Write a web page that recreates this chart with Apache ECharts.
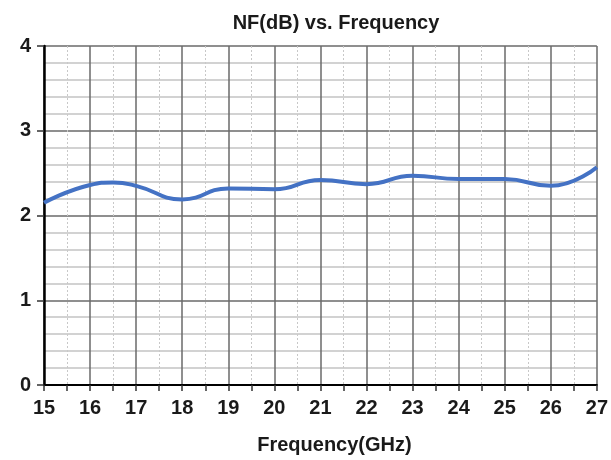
<!DOCTYPE html>
<html>
<head>
<meta charset="utf-8">
<script src="https://cdn.jsdelivr.net/npm/echarts@6/dist/echarts.min.js"></script>
<style>html,body{margin:0;padding:0;background:#fff}#c{width:611px;height:460px}</style>
</head>
<body>
<div id="c"></div>
<script>
var freq = [15, 16, 16.5, 17, 18, 19, 20, 21, 22, 23, 24, 25, 26, 27];
var nf   = [2.15, 2.36, 2.39, 2.35, 2.19, 2.32, 2.31, 2.42, 2.37, 2.47, 2.43, 2.43, 2.35, 2.57];
var xTicks = [15, 16, 17, 18, 19, 20, 21, 22, 23, 24, 25, 26, 27];
var yTicks = [0, 1, 2, 3, 4];

var chart = echarts.init(document.getElementById('c'), null, {renderer: 'canvas'});
var font = 'Liberation Sans, Arial, sans-serif';
chart.setOption({
  animation: false,
  backgroundColor: '#fff',
  title: {
    text: 'NF(dB) vs. Frequency',
    left: 331, top: 8, textAlign: 'center',
    textStyle: {fontFamily: font, fontWeight: 'bold', fontSize: 20, color: '#1a1a1a'}
  },
  grid: {left: 44, right: 13, top: 46, bottom: 74, containLabel: false},
  xAxis: {
    type: 'value', min: xTicks[0], max: xTicks[xTicks.length - 1], interval: 1,
    name: 'Frequency(GHz)', nameLocation: 'middle', nameGap: 50,
    nameTextStyle: {fontFamily: font, fontWeight: 'bold', fontSize: 20, color: '#1a1a1a', padding: [0, 0, 0, 28]},
    axisLine: {show: true, onZero: false, lineStyle: {color: '#000', width: 2}},
    axisTick: {show: true, length: 6, lineStyle: {color: '#333', width: 1.5}},
    minorTick: {show: true, splitNumber: 2, length: 6, lineStyle: {color: '#333', width: 1.5}},
    axisLabel: {fontFamily: font, fontWeight: 'bold', fontSize: 20, color: '#1a1a1a', margin: 13,
      formatter: function (v) { return xTicks.indexOf(v) >= 0 ? String(v) : ''; }},
    splitLine: {show: true, lineStyle: {color: '#6a6a6a', width: 1.5}},
    minorSplitLine: {show: true, lineStyle: {color: '#c8c8c8', width: 1, type: [2, 2]}}
  },
  yAxis: {
    type: 'value', min: yTicks[0], max: yTicks[yTicks.length - 1], interval: 1,
    axisLine: {show: true, onZero: false, lineStyle: {color: '#000', width: 2.5}},
    axisTick: {show: true, length: 7, lineStyle: {color: '#333', width: 1.5}},
    minorTick: {show: false, splitNumber: 5},
    axisLabel: {fontFamily: font, fontWeight: 'bold', fontSize: 20, color: '#1a1a1a', margin: 13},
    splitLine: {show: true, lineStyle: {color: '#6a6a6a', width: 1.5}},
    minorSplitLine: {show: true, lineStyle: {color: '#c4c4c4', width: 1.5}}
  },
  series: [{
    type: 'line',
    data: freq.map(function (f, i) { return [f, nf[i]]; }),
    smooth: 0.5,
    showSymbol: false,
    lineStyle: {color: '#4472C4', width: 4},
    itemStyle: {color: '#4472C4'}
  }]
});
</script>
</body>
</html>
